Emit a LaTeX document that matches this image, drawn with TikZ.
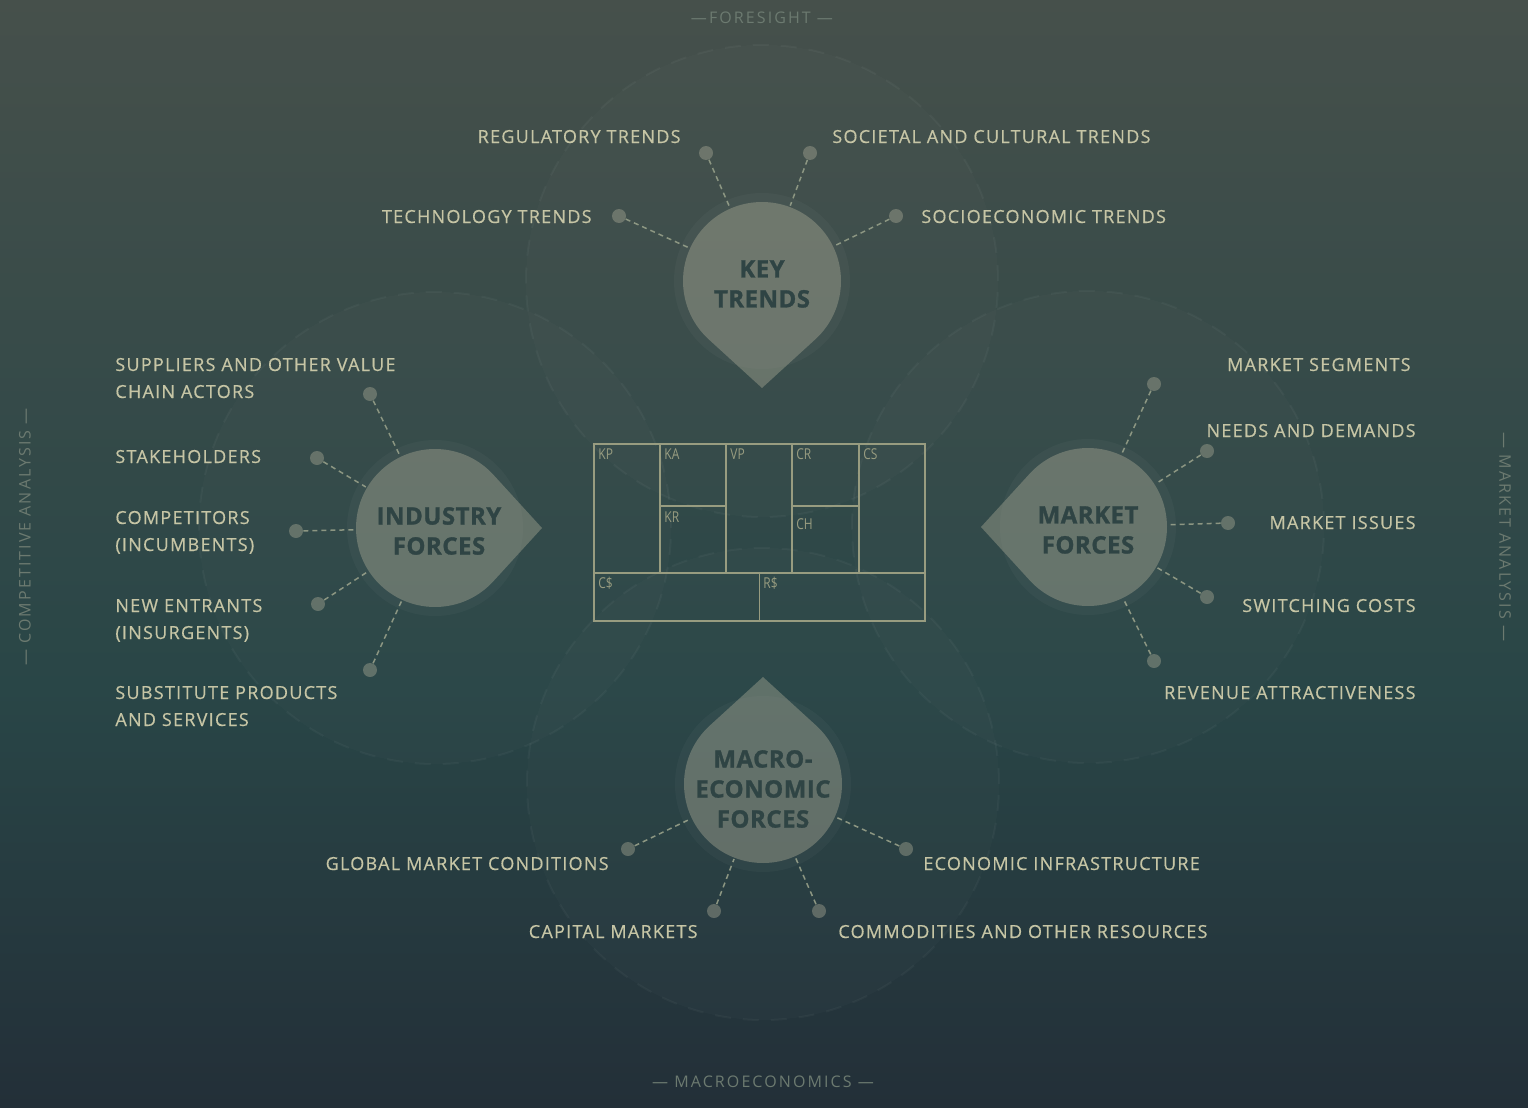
\documentclass[tikz,border=0pt]{standalone}
\usepackage{fontspec}
\setmainfont{Open Sans}
\newfontfamily\lblfont[LetterSpace=7,FakeBold=0.5]{Open Sans}
\newfontfamily\hdfont[LetterSpace=2,FakeBold=1.2]{Open Sans}
\newfontfamily\sidefont[LetterSpace=13]{Open Sans}
\newfontfamily\cvsfont[FakeStretch=0.8]{Open Sans}
\usetikzlibrary{calc}

\definecolor{bgtop}{RGB}{70,80,75}
\definecolor{bgmid}{RGB}{41,70,71}
\definecolor{bgbot}{RGB}{35,47,56}
\definecolor{beige}{RGB}{198,197,165}
\definecolor{drophue}{RGB}{170,170,150}
\definecolor{darktxt}{RGB}{47,68,68}
\definecolor{sidetxt}{RGB}{108,122,112}
\definecolor{cvsline}{RGB}{152,156,128}
\definecolor{dashcol}{RGB}{140,150,130}

\pgfdeclareverticalshading{bgshade}{100bp}{color(0bp)=(bgbot); color(25bp)=(bgbot); color(44bp)=(bgmid); color(75bp)=(bgtop); color(100bp)=(bgtop)}

% drop: #1 centre, #2 direction of the tip
\newcommand{\dropshape}[2]{%
	\fill[white,opacity=0.03] (#1) circle[radius=88];
	\fill[drophue,opacity=0.42] (#1) ++(#2+42.4:79) arc[start angle=#2+42.4,end angle=#2+317.6,radius=79] -- ($(#1)+(#2:107)$) -- cycle;
}

\begin{document}
\begin{tikzpicture}[x=0.5pt,y=0.5pt,
	lbl/.style={font=\lblfont\fontsize{9}{13.5}\selectfont,text=beige,inner sep=0pt,align=left},
	rlbl/.style={lbl,align=right},
	title/.style={font=\hdfont\bfseries\fontsize{12}{15}\selectfont,text=darktxt,align=center,inner sep=0pt},
	side/.style={font=\sidefont\fontsize{8}{10}\selectfont,text=sidetxt,inner sep=0pt},
	cvs/.style={font=\cvsfont\fontsize{7.5}{9}\selectfont,text=cvsline,inner sep=0pt,anchor=north west},
	dot/.style={circle,fill=drophue,fill opacity=0.42,minimum size=7pt,inner sep=0pt},
	hub/.style={circle,minimum size=80pt,inner sep=0pt},
	linkline/.style={dashcol,line width=0.75pt,dash pattern=on 2.5pt off 2pt},
	ring/.style={draw=white,draw opacity=0.035,fill=white,fill opacity=0.015,line width=1pt,dash pattern=on 8pt off 6pt}]

\useasboundingbox (0,0) rectangle (1528,-1108);
\shade[shading=bgshade] (0,0) rectangle (1528,-1108);

\node[hub] (kt) at (762,-281) {};
\node[hub] (ind) at (435,-528) {};
\node[hub] (mkt) at (1088,-527) {};
\node[hub] (mac) at (763,-784) {};

\foreach \h in {kt,ind,mkt,mac}
	\path[ring] (\h) circle[radius=236];

\foreach \n/\x/\y in {reg/706/153,soc/810/153,tec/619/216,see/896/216,
	sup/370/394,stk/317/458,com/296/531,new/318/604,sub/370/670,
	seg/1154/384,nee/1207/451,iss/1228/523,swi/1207/597,rev/1154/661,
	glo/628/849,capm/714/911,eco/906/849,cmd/819/911}
	\node[dot] (\n) at (\x,-\y) {};

\foreach \n/\h in {reg/kt,soc/kt,tec/kt,see/kt,sup/ind,stk/ind,com/ind,new/ind,sub/ind,
	seg/mkt,nee/mkt,iss/mkt,swi/mkt,rev/mkt,glo/mac,capm/mac,eco/mac,cmd/mac}
	\draw[linkline] (\n) -- (\h);

\dropshape{kt}{-90}
\dropshape{ind}{0}
\dropshape{mkt}{180}
\dropshape{mac}{90}

\node[title] (kt-t) at ($(kt)+(0,-3)$) {KEY\\TRENDS};
\node[title] (ind-t) at ($(ind)+(4,-3)$) {INDUSTRY\\FORCES};
\node[title] (mkt-t) at ($(mkt)+(0,-3)$) {MARKET\\FORCES};
\node[title] (mac-t) at ($(mac)+(0,-5)$) {MACRO-\\ECONOMIC\\FORCES};

% key trends
\node[rlbl,anchor=base east] (reg-l) at (681,-143) {REGULATORY TRENDS};
\node[lbl,anchor=base west] (soc-l) at (832,-143) {SOCIETAL AND CULTURAL TRENDS};
\node[rlbl,anchor=base east] (tec-l) at (592,-223) {TECHNOLOGY TRENDS};
\node[lbl,anchor=base west] (see-l) at (921,-223) {SOCIOECONOMIC TRENDS};
% industry forces
\node[lbl,anchor=base west] (sup-l) at (115,-398) {SUPPLIERS AND OTHER VALUE\\CHAIN ACTORS};
\node[lbl,anchor=base west] (stk-l) at (115,-463) {STAKEHOLDERS};
\node[lbl,anchor=base west] (com-l) at (115,-551) {COMPETITORS\\(INCUMBENTS)};
\node[lbl,anchor=base west] (new-l) at (115,-639) {NEW ENTRANTS\\(INSURGENTS)};
\node[lbl,anchor=base west] (sub-l) at (115,-726) {SUBSTITUTE PRODUCTS\\AND SERVICES};
% market forces
\node[rlbl,anchor=base east] (seg-l) at (1411,-371) {MARKET SEGMENTS};
\node[rlbl,anchor=base east] (nee-l) at (1416,-437) {NEEDS AND DEMANDS};
\node[rlbl,anchor=base east] (iss-l) at (1416,-529) {MARKET ISSUES};
\node[rlbl,anchor=base east] (swi-l) at (1416,-612) {SWITCHING COSTS};
\node[rlbl,anchor=base east] (rev-l) at (1416,-699) {REVENUE ATTRACTIVENESS};
% macroeconomic forces
\node[rlbl,anchor=base east] (glo-l) at (609,-870) {GLOBAL MARKET CONDITIONS};
\node[rlbl,anchor=base east] (capm-l) at (698,-938) {CAPITAL MARKETS};
\node[lbl,anchor=base west] (eco-l) at (923,-870) {ECONOMIC INFRASTRUCTURE};
\node[lbl,anchor=base west] (cmd-l) at (838,-938) {COMMODITIES AND OTHER RESOURCES};

% canvas
\draw[cvsline,line width=0.7pt] (594,-444) rectangle (925,-621);
\draw[cvsline,line width=0.7pt] (594,-573) -- (925,-573);
\foreach \x in {660,726,792,859}
	\draw[cvsline,line width=0.7pt] (\x,-444) -- (\x,-573);
\draw[cvsline,line width=0.7pt] (660,-506) -- (726,-506);
\draw[cvsline,line width=0.7pt] (792,-506) -- (859,-506);
\draw[cvsline,line width=0.7pt] (759.5,-573) -- (759.5,-621);
\foreach \n/\t/\x/\y in {kp/KP/598/448,ka/KA/664/448,vp/VP/730/448,cr/CR/796/448,cs/CS/863/448,
	kr/KR/664/511,ch/CH/796/518,cost/C\$/598/577,rev/R\$/763/577}
	\node[cvs] (cvs-\n) at (\x,-\y) {\t};

\node[side] (top-s) at (762,-18) {—FORESIGHT —};
\node[side] (bot-s) at (763,-1082) {— MACROECONOMICS —};
\node[side,rotate=90] (lft-s) at (25,-537) {— COMPETITIVE ANALYSIS —};
\node[side,rotate=-90] (rgt-s) at (1505,-537) {— MARKET ANALYSIS —};

\end{tikzpicture}
\end{document}
